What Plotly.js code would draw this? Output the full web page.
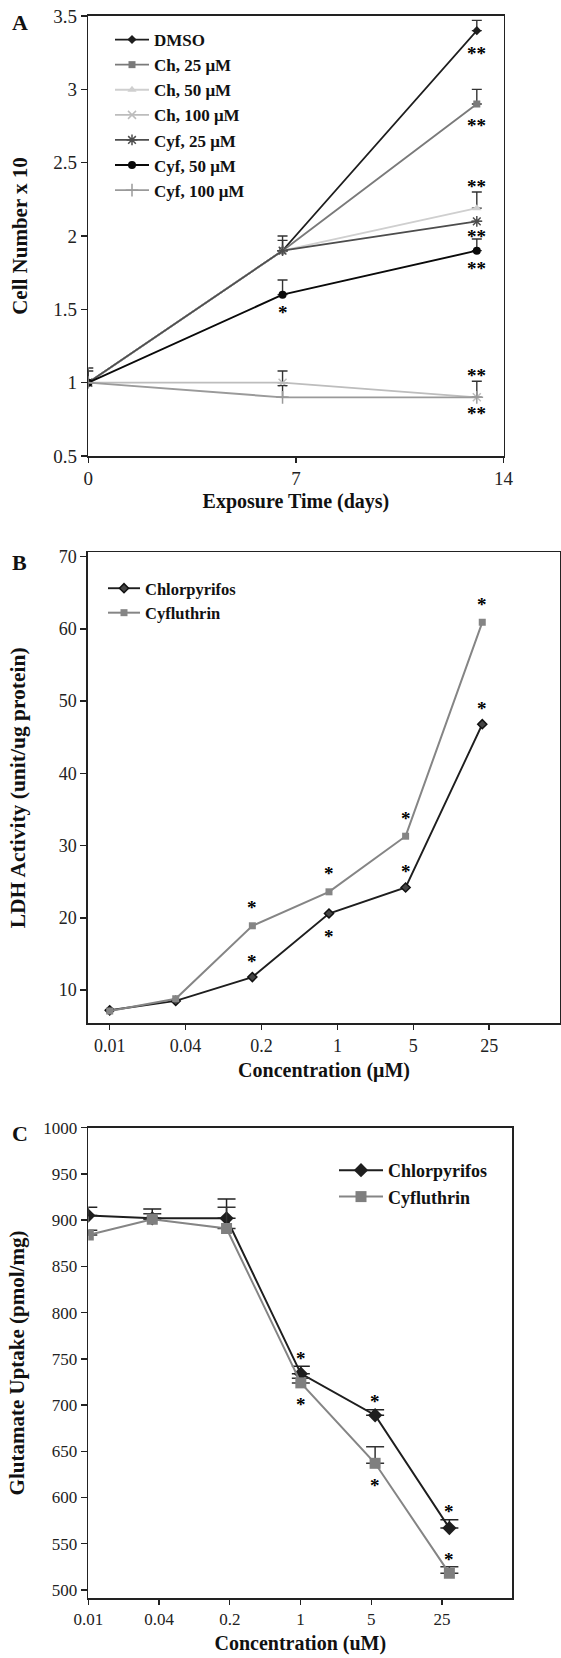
<!DOCTYPE html>
<html>
<head>
<meta charset="utf-8">
<script src="https://cdn.plot.ly/plotly-3.0.1.min.js"></script>
<style>html,body{margin:0;padding:0;background:#fff;}#chart{width:561px;height:1658px;}</style>
</head>
<body>
<div id="chart"></div>
<script>
// ---------- Panel A data ----------
const daysA = [0, 6.55, 13.1];
const namesA = ['DMSO', 'Ch, 25 μM', 'Ch, 50 μM', 'Ch, 100 μM', 'Cyf, 25 μM', 'Cyf, 50 μM', 'Cyf, 100 μM'];
const dmso   = [1.0, 1.9, 3.4];   const dmsoErr   = [0.10, 0.10, 0.07];
const ch25   = [1.0, 1.9, 2.9];   const ch25Err   = [0, 0.07, 0.10];
const ch50   = [1.0, 1.9, 2.19];  const ch50Err   = [0, 0, 0.11];
const ch100  = [1.0, 1.0, 0.9];   const ch100Err  = [0.08, 0.08, 0.11];
const cyf25  = [1.0, 1.9, 2.1];   const cyf25Err  = [0, 0, 0];
const cyf50  = [1.0, 1.6, 1.9];   const cyf50Err  = [0, 0.10, 0.08];
const cyf100 = [1.0, 0.9, 0.9];   const cyf100Err = [0, 0.08, 0];
// significance marks (text, placement a=above / b=below)
const dmsoSig   = ['', '', '**'];  const dmsoPos   = ['', '', 'b'];
const ch25Sig   = ['', '', '**'];  const ch25Pos   = ['', '', 'b'];
const ch50Sig   = ['', '', '**'];  const ch50Pos   = ['', '', 'a'];
const ch100Sig  = ['', '', '**'];  const ch100Pos  = ['', '', 'a'];
const cyf25Sig  = ['', '', '**'];  const cyf25Pos  = ['', '', 'b'];
const cyf50Sig  = ['', '*', '**']; const cyf50Pos  = ['', 'b', 'b'];
const cyf100Sig = ['', '', '**'];  const cyf100Pos = ['', '', 'b'];
const yTicksA = [0.5, 1, 1.5, 2, 2.5, 3, 3.5];
const yTickTextA = ['0.5', '1', '1.5', '2', '2.5', '3', '3.5'];
const xTicksA = [0, 7, 14];

// ---------- Panel B data ----------
const concB = [0.01, 0.04, 0.2, 1, 5, 25];
const chlB = [7.2, 8.5, 11.8, 20.6, 24.2, 46.8];
const cyfB = [7.1, 8.8, 18.9, 23.6, 31.3, 60.9];
const chlBSig = ['', '', '*', '*', '*', '*']; const chlBPos = ['', '', 'a', 'b', 'a', 'a'];
const cyfBSig = ['', '', '*', '*', '*', '*']; const cyfBPos = ['', '', 'a', 'a', 'a', 'a'];
const xTickTextB = ['0.01', '0.04', '0.2', '1', '5', '25'];
const yTicksB = [10, 20, 30, 40, 50, 60, 70];

// ---------- Panel C data ----------
const concC = [0.01, 0.04, 0.2, 1, 5, 25];
const chlC = [905, 902, 902, 734, 689, 567];
const chlCErr = [9, 10, 21, 8, 6, 9];
const cyfC = [884, 901, 891, 724, 637, 518];
const cyfCErr = [5, 6, 23, 5, 18, 7];
const chlCSig = ['', '', '', '*', '*', '*']; const chlCPos = ['', '', '', 'a', 'a', 'a'];
const cyfCSig = ['', '', '', '*', '*', '*']; const cyfCPos = ['', '', '', 'b', 'b', 'a'];
const xTickTextC = ['0.01', '0.04', '0.2', '1', '5', '25', ''];
const yTicksC = [500, 550, 600, 650, 700, 750, 800, 850, 900, 950, 1000];

// ---------- styling ----------
const FONT = '"Liberation Serif", "Times New Roman", Times, serif';
const W = 561, H = 1658;
const px = v => v / W;
const py = v => 1 - v / H;

function traceA(name, y, err, color, symbol, msize, lw, mline) {
  return {
    x: daysA, y: y, name: name, type: 'scatter', mode: 'lines+markers',
    xaxis: 'x', yaxis: 'y', legend: 'legend',
    line: {color: color, width: lw},
    marker: {color: color, symbol: symbol, size: msize, line: {color: color, width: mline || 0}},
    error_y: {type: 'data', symmetric: false, array: err, arrayminus: err.map(() => 0),
              color: '#333', thickness: 1.4, width: 5, visible: true}
  };
}

const traces = [
  traceA(namesA[0], dmso, dmsoErr, '#1e1e1e', 'diamond', 7, 1.7),
  traceA(namesA[1], ch25, ch25Err, '#7a7a7a', 'square', 7, 1.9),
  traceA(namesA[2], ch50, ch50Err, '#cfcfcf', 'triangle-up', 8, 1.9),
  traceA(namesA[3], ch100, ch100Err, '#bdbdbd', 'x-thin', 8, 1.9, 1.5),
  traceA(namesA[4], cyf25, cyf25Err, '#4d4d4d', 'asterisk', 9, 1.7, 1.5),
  traceA(namesA[5], cyf50, cyf50Err, '#0a0a0a', 'circle', 8, 1.9),
  traceA(namesA[6], cyf100, cyf100Err, '#9a9a9a', 'cross-thin', 9, 1.9, 1.5),
  {
    x: concB, y: chlB, name: 'Chlorpyrifos', type: 'scatter', mode: 'lines+markers',
    xaxis: 'x2', yaxis: 'y2', legend: 'legend2',
    line: {color: '#1e1e1e', width: 1.9},
    marker: {color: '#444', symbol: 'diamond', size: 7, line: {color: '#111', width: 1.5}}
  },
  {
    x: concB, y: cyfB, name: 'Cyfluthrin', type: 'scatter', mode: 'lines+markers',
    xaxis: 'x2', yaxis: 'y2', legend: 'legend2',
    line: {color: '#858585', width: 2},
    marker: {color: '#858585', symbol: 'square', size: 7}
  },
  {
    x: concC, y: chlC, name: 'Chlorpyrifos', type: 'scatter', mode: 'lines+markers',
    xaxis: 'x3', yaxis: 'y3', legend: 'legend3',
    line: {color: '#1e1e1e', width: 2},
    marker: {color: '#1e1e1e', symbol: 'diamond', size: 11},
    error_y: {type: 'data', symmetric: false, array: chlCErr, arrayminus: chlCErr.map(() => 0),
              color: '#222', thickness: 1.5, width: 9}
  },
  {
    x: concC, y: cyfC, name: 'Cyfluthrin', type: 'scatter', mode: 'lines+markers',
    xaxis: 'x3', yaxis: 'y3', legend: 'legend3',
    line: {color: '#858585', width: 2},
    marker: {color: '#7f7f7f', symbol: 'square', size: 11},
    error_y: {type: 'data', symmetric: false, array: cyfCErr, arrayminus: cyfCErr.map(() => 0),
              color: '#333', thickness: 1.5, width: 9}
  }
];

// significance star annotations derived from data
const annotations = [];
function addStars(xs, ys, errs, sig, pos, xr, yr, isLog, gapA, gapB) {
  for (let i = 0; i < xs.length; i++) {
    if (!sig[i]) continue;
    const above = pos[i] === 'a';
    const yv = above ? ys[i] + (errs ? errs[i] : 0) : ys[i];
    annotations.push({
      x: isLog ? Math.log10(xs[i]) : xs[i], y: yv, xref: xr, yref: yr,
      text: sig[i], showarrow: false, xanchor: 'center', yanchor: 'middle',
      yshift: (above ? gapA : -gapB) - 4,
      font: {family: FONT, size: 19, color: '#000', weight: 'bold'}
    });
  }
}
addStars(daysA, dmso, dmsoErr, dmsoSig, dmsoPos, 'x', 'y', false, 10, 19);
addStars(daysA, ch25, ch25Err, ch25Sig, ch25Pos, 'x', 'y', false, 10, 17);
addStars(daysA, ch50, ch50Err, ch50Sig, ch50Pos, 'x', 'y', false, 10, 15);
addStars(daysA, ch100, ch100Err, ch100Sig, ch100Pos, 'x', 'y', false, 10, 15);
addStars(daysA, cyf25, cyf25Err, cyf25Sig, cyf25Pos, 'x', 'y', false, 10, 11);
addStars(daysA, cyf50, cyf50Err, cyf50Sig, cyf50Pos, 'x', 'y', false, 10, 14);
addStars(daysA, cyf100, cyf100Err, cyf100Sig, cyf100Pos, 'x', 'y', false, 10, 12);
addStars(concB, chlB, null, chlBSig, chlBPos, 'x2', 'y2', true, 20, 19);
addStars(concB, cyfB, null, cyfBSig, cyfBPos, 'x2', 'y2', true, 22, 19);
addStars(concC, chlC, chlCErr, chlCSig, chlCPos, 'x3', 'y3', true, 12, 18);
addStars(concC, cyfC, cyfCErr, cyfCSig, cyfCPos, 'x3', 'y3', true, 11, 18);

// panel letters
[['A', 20, 23], ['B', 19, 562], ['C', 20, 1133]].forEach(([t, x, y]) => {
  annotations.push({x: px(x), y: py(y), xref: 'paper', yref: 'paper', text: t, showarrow: false,
    xanchor: 'center', yanchor: 'middle', font: {family: FONT, size: 22, color: '#111', weight: 'bold'}});
});

// log-axis tick positions (equally spaced labels as in the figure)
const stepB = 0.6922, stepC = 0.6657;
const xTicksB = xTickTextB.map((_, k) => Math.pow(10, -2 + k * stepB));
const xTicksC = xTickTextC.map((_, k) => Math.pow(10, -2 + k * stepC));

const axBase = {
  showline: true, linecolor: '#222', linewidth: 1.6, mirror: true,
  ticks: 'outside', ticklen: 6, tickwidth: 1.4, tickcolor: '#222',
  showgrid: false, zeroline: false, automargin: false,
  tickfont: {family: FONT, size: 18, color: '#222'}
};
const titleFont = s => ({family: FONT, size: s, color: '#111', weight: 'bold'});

const layout = {
  width: W, height: H,
  margin: {l: 0, r: 0, t: 0, b: 0},
  paper_bgcolor: '#fff', plot_bgcolor: '#fff',
  font: {family: FONT, color: '#222'},
  showlegend: true,
  xaxis: Object.assign({}, axBase, {
    domain: [px(88.3), px(503.5)], anchor: 'y', range: [0, 14], ticklen: 5,
    tickmode: 'array', tickvals: xTicksA, ticktext: xTicksA.map(String),
    tickfont: {family: FONT, size: 19, color: '#222'},
    title: {text: 'Exposure Time (days)', font: titleFont(20), standoff: 5}
  }),
  yaxis: Object.assign({}, axBase, {
    domain: [py(456), py(16)], anchor: 'x', range: [0.5, 3.5],
    tickmode: 'array', tickvals: yTicksA, ticktext: yTickTextA,
    tickfont: {family: FONT, size: 19, color: '#222'},
    title: {text: 'Cell Number x 10', font: titleFont(21), standoff: 20}
  }),
  xaxis2: Object.assign({}, axBase, {
    domain: [px(88), px(560)], anchor: 'y2', type: 'log', range: [-2.198, 2.107], ticklen: 5,
    tickmode: 'array', tickvals: xTicksB, ticktext: xTickTextB,
    title: {text: 'Concentration (μM)', font: titleFont(20), standoff: 8}
  }),
  yaxis2: Object.assign({}, axBase, {
    domain: [py(1023.3), py(552.3)], anchor: 'x2', range: [5.4, 70.6],
    tickmode: 'array', tickvals: yTicksB, ticktext: yTicksB.map(String),
    title: {text: 'LDH Activity (unit/ug protein)', font: titleFont(21.5), standoff: 27}
  }),
  xaxis3: Object.assign({}, axBase, {
    domain: [px(88.3), px(512.3)], anchor: 'y3', type: 'log', range: [-2, 1.99], ticklen: 5,
    tickmode: 'array', tickvals: xTicksC, ticktext: xTickTextC,
    tickfont: {family: FONT, size: 17, color: '#222'},
    title: {text: 'Concentration (uM)', font: titleFont(20), standoff: 8}
  }),
  yaxis3: Object.assign({}, axBase, {
    domain: [py(1598.3), py(1127.7)], anchor: 'x3', range: [491, 1000],
    tickmode: 'array', tickvals: yTicksC, ticktext: yTicksC.map(String),
    tickfont: {family: FONT, size: 17, color: '#222'},
    title: {text: 'Glutamate Uptake (pmol/mg)', font: titleFont(21), standoff: 13}
  }),
  legend: {x: px(110), y: py(22), xanchor: 'left', yanchor: 'top', bgcolor: 'rgba(0,0,0,0)',
           font: {family: FONT, size: 17, color: '#111', weight: 'bold'}, itemwidth: 34},
  legend2: {x: px(103), y: py(571), xanchor: 'left', yanchor: 'top', bgcolor: 'rgba(0,0,0,0)',
            font: {family: FONT, size: 16.5, color: '#111', weight: 'bold'}, itemwidth: 32},
  legend3: {x: px(334), y: py(1152), xanchor: 'left', yanchor: 'top', bgcolor: 'rgba(0,0,0,0)',
            font: {family: FONT, size: 18, color: '#111', weight: 'bold'}, itemwidth: 44},
  annotations: annotations
};

Plotly.newPlot('chart', traces, layout, {staticPlot: true, displayModeBar: false});
</script>
</body>
</html>
